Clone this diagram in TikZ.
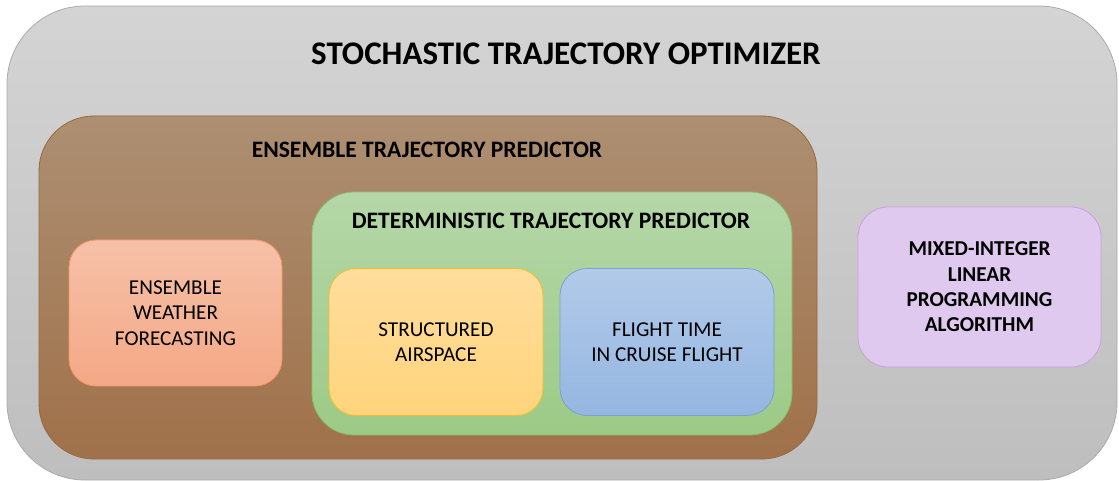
\documentclass[tikz,border=0pt]{standalone}
\usepackage{fontspec}
\setmainfont{Carlito}
\definecolor{grayTop}{HTML}{D4D4D4}
\definecolor{grayBot}{HTML}{BEBEBE}
\definecolor{grayLine}{HTML}{ABABAB}
\definecolor{brownTop}{HTML}{AD8F72}
\definecolor{brownBot}{HTML}{A0714A}
\definecolor{brownLine}{HTML}{96683F}
\definecolor{greenTop}{HTML}{B5D7A8}
\definecolor{greenBot}{HTML}{9CCA86}
\definecolor{greenLine}{HTML}{86BD67}
\definecolor{orangeTop}{HTML}{F6C1A8}
\definecolor{orangeBot}{HTML}{F4A886}
\definecolor{orangeLine}{HTML}{F09660}
\definecolor{yellowTop}{HTML}{FFDD9C}
\definecolor{yellowBot}{HTML}{FFD47C}
\definecolor{yellowLine}{HTML}{F2BE2E}
\definecolor{blueTop}{HTML}{B2CAE9}
\definecolor{blueBot}{HTML}{95B6E1}
\definecolor{blueLine}{HTML}{78A2D4}
\definecolor{purpleFill}{HTML}{E0C9EF}
\definecolor{purpleLine}{HTML}{C9A0E0}
\begin{document}
\begin{tikzpicture}[x=1pt,y=-1pt,
  panel/.style={rectangle, draw, line width=0.8pt, inner sep=0pt},
  leaf/.style={panel, rounded corners=27pt, minimum width=214pt, minimum height=147pt,
    align=center, font=\fontsize{21.2}{25.6}\selectfont},
  bigtitle/.style={anchor=base, inner sep=0pt, font=\fontsize{33}{36}\selectfont\bfseries},
  subtitle/.style={anchor=base, inner sep=0pt, font=\fontsize{23.6}{26}\selectfont\bfseries}
]
\useasboundingbox (0,0) rectangle (1119,481);

% outer container
\node[panel, draw=grayLine, top color=grayTop, bottom color=grayBot,
  rounded corners=78pt, minimum width=1110pt, minimum height=474pt] (sto) at (562,243) {};
\node[bigtitle] (stoT) at (566,65) {STOCHASTIC TRAJECTORY OPTIMIZER};

% ensemble predictor
\node[panel, draw=brownLine, top color=brownTop, bottom color=brownBot,
  rounded corners=55pt, minimum width=778pt, minimum height=343pt] (etp) at (428,287.5) {};
\node[subtitle] (etpT) at (427,157.5) {ENSEMBLE TRAJECTORY PREDICTOR};

\node[leaf, draw=orangeLine, top color=orangeTop, bottom color=orangeBot,
  minimum width=213pt, minimum height=146pt] (ewf) at (175.5,313) {ENSEMBLE\\WEATHER\\FORECASTING};

% deterministic predictor
\node[panel, draw=greenLine, top color=greenTop, bottom color=greenBot,
  rounded corners=42pt, minimum width=480pt, minimum height=243pt] (dtp) at (552,313.5) {};
\node[subtitle] (dtpT) at (551,229) {DETERMINISTIC TRAJECTORY PREDICTOR};

\node[leaf, draw=yellowLine, top color=yellowTop, bottom color=yellowBot] (sa) at (436,342) {STRUCTURED\\AIRSPACE};
\node[leaf, draw=blueLine, top color=blueTop, bottom color=blueBot] (ft) at (667,342) {FLIGHT TIME\\IN CRUISE FLIGHT};

% optimisation algorithm
\node[leaf, draw=purpleLine, fill=purpleFill, rounded corners=30pt,
  minimum width=243pt, minimum height=160pt, font=\fontsize{21.2}{25.3}\selectfont\bfseries] (milp) at (979.5,287)
  {MIXED-INTEGER\\LINEAR\\PROGRAMMING\\ALGORITHM};
\end{tikzpicture}
\end{document}
